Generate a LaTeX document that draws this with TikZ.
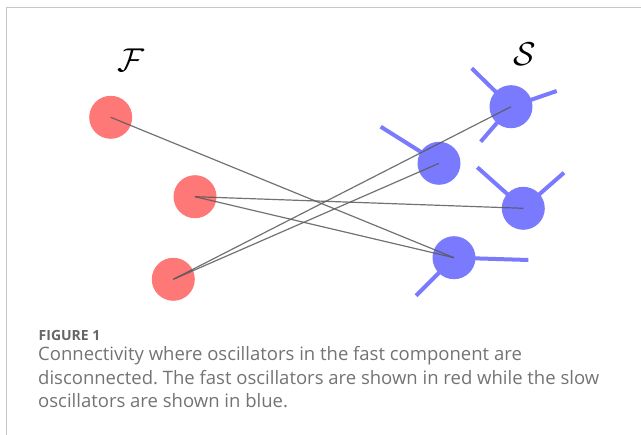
\documentclass[tikz,border=0pt]{standalone}
\usepackage{fontspec}
\newfontfamily\capfont{Open Sans}
\frenchspacing
\begin{document}
\begin{tikzpicture}[x=1pt,y=-1pt,
  fastosc/.style={circle,fill=redosc,draw=none,minimum size=43pt,inner sep=0pt},
  slowosc/.style={circle,fill=blueosc,draw=none,minimum size=43pt,inner sep=0pt},
  spike/.style={draw=blueosc,line width=4pt},
  link/.style={draw=black!65,opacity=0.85,line width=1.2pt},
  frameline/.style={draw=black!22,line width=1.4pt},
  setlabel/.style={inner sep=0pt,scale=3.3},
  captext/.style={anchor=base west,inner sep=0pt,text=black!55,font=\capfont\fontsize{18.5}{22}\selectfont},
  ]
\definecolor{redosc}{RGB}{255,120,120}
\definecolor{blueosc}{RGB}{122,122,255}
\useasboundingbox (0,0) rectangle (641,435);
\coordinate (fr0) at (6.5,435);
\coordinate (fr1) at (6.5,7.5);
\coordinate (fr2) at (641,7.5);
\draw[frameline] (fr0) -- (fr1) -- (fr2);
% labels
\node[setlabel] (lf) at (131,60) {$\mathcal{F}$};
\node[setlabel] (ls) at (525,54) {$\mathcal{S}$};
% spike ends
\coordinate (b1a) at (471.7,68.3);
\coordinate (b1b) at (556.7,91);
\coordinate (b1c) at (480.7,141.7);
\coordinate (b2a) at (380.7,126.7);
\coordinate (b3a) at (477.3,167.3);
\coordinate (b3b) at (564,172.7);
\coordinate (b4a) at (528.3,260);
\coordinate (b4b) at (416,295.7);
% oscillators
\node[fastosc] (r1) at (110.7,117.3) {};
\node[fastosc] (r2) at (195,196.7) {};
\node[fastosc] (r3) at (173.3,279.3) {};
\node[slowosc] (b1) at (511,106.7) {};
\node[slowosc] (b2) at (439,163.3) {};
\node[slowosc] (b3) at (523.3,208.3) {};
\node[slowosc] (b4) at (454,257.7) {};
% spikes
\draw[spike] (b1.center) -- (b1a);
\draw[spike] (b1.center) -- (b1b);
\draw[spike] (b1.center) -- (b1c);
\draw[spike] (b2.center) -- (b2a);
\draw[spike] (b3.center) -- (b3a);
\draw[spike] (b3.center) -- (b3b);
\draw[spike] (b4.center) -- (b4a);
\draw[spike] (b4.center) -- (b4b);
% links
\draw[link] (r1.center) -- (b4.center);
\draw[link] (r2.center) -- (b3.center);
\draw[link] (r2.center) -- (b4.center);
\draw[link] (r3.center) -- (b1.center);
\draw[link] (r3.center) -- (b2.center);
% caption
\node[anchor=base west,inner sep=0pt,text=black!60,font=\capfont\bfseries\fontsize{14}{16}\selectfont] (c0) at (38.5,341) {FIGURE 1};
\node[captext] (c1) at (38,361) {Connectivity where oscillators in the fast component are};
\node[captext] (c2) at (38,384.5) {disconnected. The fast oscillators are shown in red while the slow};
\node[captext] (c3) at (38,408) {oscillators are shown in blue.};
\end{tikzpicture}
\end{document}
